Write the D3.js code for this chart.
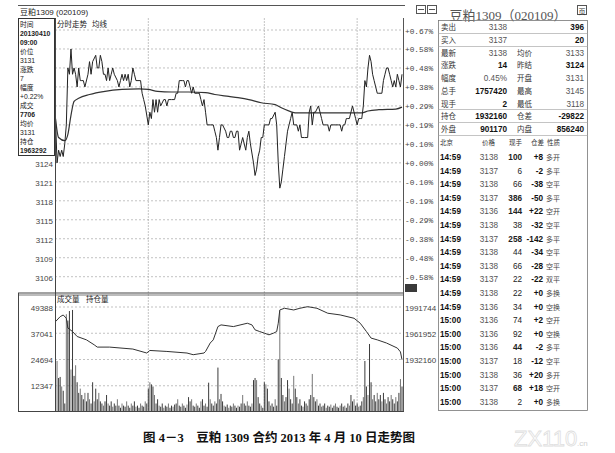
<!DOCTYPE html>
<html><head><meta charset="utf-8">
<script src="https://cdn.jsdelivr.net/npm/d3@7"></script>
<style>
body{margin:0;background:#fff;}
svg{display:block;font-family:"Liberation Sans","Noto Sans CJK SC",sans-serif;}
</style></head><body>
<svg id="c" width="615" height="453"></svg>
<script>
// ---------------- DATA ----------------
const preClose = 3124;
const priceTicks = [3145,3142,3139,3136,3133,3130,3127,3124,3121,3118,3115,3112,3109,3106];
const pctLabels = ["+0.67%","+0.58%","+0.48%","+0.38%","+0.29%","+0.19%","+0.10%","+0.00%","-0.10%","-0.19%","-0.29%","-0.38%","-0.48%","-0.58%"];
const timeGrid = [60,135,195];

const priceMin = [0,1,2,3,4,5,6,7,8,9,10,11,12,13,14,15,16,17,18,19,21,22,23,24,26,27,28,29,30,31,32,33,34,35,36,37,38,40,41,42,43,44,45,46,47,48,49,50,51,52,54,55,56,57,58,60,61,62,63,64,65,66,67,68,70,71,72,73,75,77,78,79,80,82,83,84,85,86,87,88,89,90,92,93,94,95,96,97,98,100,102,103,104,105,106,107,108,110,111,112,113,114,115,116,117,118,119,120,121,122,123,124,125,126,128,129,130,131,132,133,134,135,137,138,139,140,142,143,144,145,146,147,148,149,150,151,152,153,154,156,157,158,159,160,161,163,164,165,166,167,168,170,171,172,173,174,175,176,177,178,180,181,183,184,185,186,187,188,189,190,191,192,193,194,195,196,197,198,199,200,201,202,203,204,205,206,207,208,209,211,212,213,214,215,216,217,218,219,220,221,222,223,224];
const priceVal = [3131,3124,3126,3125,3126,3125,3127,3130,3139,3138,3142,3138,3139,3138,3136,3139,3137,3137,3137,3136,3138,3140,3138,3140,3141,3139,3139,3141,3140,3138,3138,3137,3139,3137,3138,3139,3138,3137,3136,3137,3138,3137,3138,3137,3138,3136,3137,3139,3138,3137,3137,3137,3135,3134,3133,3130,3132,3131,3134,3132,3134,3132,3134,3133,3134,3134,3133,3134,3134,3134,3135,3135,3137,3137,3137,3136,3137,3137,3136,3135,3136,3135,3135,3135,3134,3133,3134,3132,3130,3130,3130,3129,3128,3126,3128,3130,3130,3129,3128,3128,3129,3129,3128,3128,3129,3129,3126,3127,3128,3127,3126,3128,3129,3127,3124,3122,3123,3125,3126,3128,3128,3130,3130,3130,3131,3131,3132,3130,3124,3120,3121,3123,3125,3127,3129,3130,3131,3132,3130,3130,3129,3130,3128,3128,3128,3128,3132,3133,3130,3132,3132,3133,3132,3131,3130,3130,3130,3130,3129,3130,3130,3130,3130,3130,3129,3130,3130,3131,3131,3131,3132,3133,3132,3131,3130,3131,3131,3131,3133,3137,3136,3139,3141,3140,3138,3137,3136,3135,3135,3135,3137,3138,3139,3139,3138,3137,3136,3137,3136,3138,3137,3136,3138];

const avgMin = [0,2,6,8,10,12,15,22,32,43,54,60,66,75,86,97,103,112,118,125,133,142,146,152,155,176,198,202,209,220,224];
const avgVal = [3131,3128,3127.5,3128.5,3131.5,3133.7,3134.2,3134.8,3135.3,3135.6,3135.7,3135.6,3135.3,3135.2,3135.2,3135.1,3134.8,3134.5,3134.3,3134.0,3133.5,3133.2,3132.7,3132.1,3131.9,3131.9,3131.9,3132.2,3132.4,3132.5,3132.8];

const volTicks = [49388,37041,24694,12347];
const volume = [
40000,24000,16000,16500,12000,10000,4000,46000,43000,47500,20000,48000,17000,22000,14000,
9000,11000,8000,6000,9000,5000,9000,6000,4000,14000,5000,11000,6000,9000,5000,
4000,3000,5000,8000,4000,3000,5000,2500,4000,3000,6000,3000,2000,4000,3000,
2500,5000,3000,2000,4000,3000,5000,2500,3000,2000,4000,3000,2500,5000,4000,
11000,14000,13000,12000,8000,4000,6000,3000,2500,4000,2000,3000,2500,4000,2000,
3000,2500,3500,4000,6000,3000,2500,4000,3000,2000,3500,7000,5000,6000,3000,
2500,4000,3000,2000,5000,6000,3000,4000,2500,13800,6000,4000,3000,5000,4000,
20900,6000,8500,5000,3000,2500,3500,2000,3000,2500,4000,3000,2000,3000,2500,
4000,8000,4000,3000,5000,3000,2500,4000,15000,16000,15000,7000,4000,3000,2000,
14000,13000,11000,5000,3000,4000,2500,6000,3000,24800,47600,16000,8000,5000,7000,
15000,11000,6000,4000,17000,11000,7000,4000,6000,3000,2500,5000,4000,3000,6000,
8000,17900,7000,5000,6000,3000,4000,2500,3000,4000,2000,3000,2500,3500,2000,
3000,4000,2500,2000,3000,4000,2500,3000,2000,4000,3000,8000,5000,6000,3000,
4000,2500,3000,5000,7000,24000,12000,8000,32000,14000,6000,8000,5000,9000,6000,
8000,5000,9000,6000,4000,7000,5000,8000,6000,4000,7000,5000,9000,15500,12000];

const oiTicks = [1991744,1961952,1932160];
const oiMin = [0,3,5,7,8,11,14,20,25,27,35,50,59,61,72,85,89,96,97,100,102,105,107,115,124,127,129,132,135,138,141,143,144,145,148,154,158,163,169,176,184,193,197,201,204,208,214,221,223,224];
const oiVal = [1975200,1980800,1982700,1979000,1968000,1964000,1958400,1954600,1949000,1946400,1946400,1944200,1939700,1942600,1941500,1939700,1937800,1939700,1941500,1951000,1954600,1969600,1971500,1969600,1973400,1971500,1965900,1964000,1962200,1960300,1962200,1964000,1973400,1988400,1990300,1988400,1990300,1992100,1990300,1984700,1982800,1979000,1973400,1964000,1956600,1954600,1951000,1945300,1941000,1932160];

const infoLines = ["时间","20130410","09:00","价位","3131","涨跌","7","幅度","+0.22%","成交","7706","均价","3131","持仓","1963292"];
const infoBold = [false,true,true,false,false,false,false,false,false,false,true,false,false,false,true];

const quoteLeftLabels = ["卖出","买入","最新","涨跌","幅度","总手","现手","持仓","外盘"];
const quoteLeftValues = ["3138","3137","3138","14","0.45%","1757420","2","1932160","901170"];
const quoteRightLabels = ["","","均价","昨结","开盘","最高","最低","仓差","内盘"];
const quoteRightValues = ["396","20","3133","3124","3131","3145","3118","-29822","856240"];

const tradeHeader = ["北京","价格","现手","仓差","性质"];
const tradeTime = ["14:59","14:59","14:59","14:59","14:59","14:59","14:59","14:59","14:59","14:59","14:59","14:59","15:00","15:00","15:00","15:00","15:00","15:00","15:00"];
const tradePrice = [3138,3137,3138,3137,3136,3138,3137,3138,3138,3137,3138,3136,3136,3136,3136,3137,3138,3137,3138];
const tradeVol = [100,6,66,386,144,38,258,44,66,22,22,34,74,92,44,18,36,68,2];
const tradeDiff = ["+8","-2","-38","-50","+22","-32","-142","-34","-28","-22","+0","+0","+2","+0","-2","-12","+20","+18","+0"];
const tradeType = ["多开","多平","空平","多平","空开","空平","多平","空平","空平","双平","多换","空换","空开","空换","多平","空平","多开","空开","多换"];

const titleText = "豆粕1309 (020109)";
const headerText = "豆粕1309（020109）";
const captionText = "图 4－3　豆粕 1309 合约 2013 年 4 月 10 日走势图";

// ---------------- DRAW ----------------
const svg = d3.select("#c");
const X0 = 55, X1 = 403;
const INFO_BOTTOM = 155.5;
const x = d3.scaleLinear().domain([0, 224]).range([X0 + 0.5, 402]);
const yP = d3.scaleLinear().domain([3106, 3145]).range([276.7, 30]);
const yV = d3.scaleLinear().domain([0, 49388]).range([412, 307]);
const yOI = d3.scaleLinear().domain([1932160, 1991744]).range([359.7, 307]);

function ln(x1,y1,x2,y2,stroke,w,dash){
  const l = svg.append("line").attr("x1",x1).attr("y1",y1).attr("x2",x2).attr("y2",y2)
    .attr("stroke",stroke).attr("stroke-width",w||1);
  if (dash) l.attr("stroke-dasharray",dash);
  return l;
}
function tx(s,xx,yy,size,opt){
  opt = opt||{};
  const t = svg.append("text").attr("x",xx).attr("y",yy).attr("font-size",size)
    .attr("fill",opt.fill||"#333").text(s);
  if (opt.anchor) t.attr("text-anchor",opt.anchor);
  if (opt.bold) t.attr("font-weight","bold");
  if (opt.family) t.attr("font-family",opt.family);
  return t;
}

// grids
priceTicks.forEach(p => ln(X0, yP(p), X1, yP(p), "#a8a8a8", 0.7, "2,2"));
volTicks.forEach(v => ln(X0, yV(v), X1, yV(v), "#a8a8a8", 0.7, "2,2"));
timeGrid.forEach(m => ln(x(m), 18, x(m), 411, "#b5b5b5", 0.8, "2,1"));

// left price labels (the upper ones sit under the info box and are not shown)
priceTicks.filter(p => yP(p) > INFO_BOTTOM).forEach(p => tx(String(p), 53, yP(p)+4.5, 8, {anchor:"end", fill:"#444"}));
// right percent labels
priceTicks.forEach((p,i) => tx(pctLabels[i], 405, yP(p)+3.5, 7.8, {fill:"#444", family:"'Liberation Mono',monospace"}));
svg.append("rect").attr("x",405).attr("y",284).attr("width",12).attr("height",8).attr("fill","#3a3a3a");

// volume labels
volTicks.forEach(v => tx(String(v), 53, yV(v)+3.5, 8, {anchor:"end", fill:"#444"}));
oiTicks.forEach(v => tx(String(v), 405, yOI(v)+3.5, 8, {fill:"#444"}));

// volume bars
svg.append("g").selectAll("rect").data(volume).join("rect")
  .attr("x", (d,i) => x(i) - 0.5)
  .attr("y", d => yV(d))
  .attr("width", 1)
  .attr("height", d => yV(0) - yV(d))
  .attr("fill", (d,i) => i % 3 === 1 ? "#777" : "#3c3c3c");

// OI line
svg.append("path").datum(d3.zip(oiMin, oiVal))
  .attr("d", d3.line().x(d => x(d[0])).y(d => yOI(d[1])))
  .attr("fill","none").attr("stroke","#333").attr("stroke-width",1);

// avg line
svg.append("path").datum(d3.zip(avgMin, avgVal))
  .attr("d", d3.line().curve(d3.curveMonotoneX).x(d => x(d[0])).y(d => yP(d[1])))
  .attr("fill","none").attr("stroke","#333").attr("stroke-width",1.2);
// price line
svg.append("path").datum(d3.zip(priceMin, priceVal))
  .attr("d", d3.line().x(d => x(d[0])).y(d => yP(d[1])))
  .attr("fill","none").attr("stroke","#222").attr("stroke-width",1);

// frame lines
ln(18, 5.5, 405, 5.5, "#555", 1);
ln(X0+0.5, 18, X0+0.5, 412, "#444", 1);
ln(X1+0.5, 18, X1+0.5, 412, "#555", 1);
ln(18, 293, X1, 293, "#444", 1);
ln(18, 295, X1, 295, "#555", 0.8);
ln(18.5, 293, 18.5, 412, "#444", 1);
ln(18, 411.5, X1+1, 411.5, "#444", 1);

// titles
tx(titleText, 20, 15, 8, {fill:"#222"});
tx("分时走势", 57, 27, 7.5, {fill:"#222"});
tx("均线", 92, 27, 7.5, {fill:"#222"});
tx("成交量", 57, 302, 7.5, {fill:"#222"});
tx("持仓量", 86, 302, 7.5, {fill:"#222"});

// info box
svg.append("rect").attr("x",18.5).attr("y",18.5).attr("width",36).attr("height",INFO_BOTTOM-18.5)
  .attr("fill","#fff").attr("stroke","#333").attr("stroke-width",1);
infoLines.forEach((s,i) => tx(s, 20, 27 + i*9, 6.8, {fill:"#222", bold: infoBold[i]}));

// right header
tx(headerText, 508, 20, 13, {anchor:"middle", fill:"#555", family:"'Liberation Serif','Noto Sans CJK SC',serif"});
// icons
svg.append("rect").attr("x",416.5).attr("y",5.5).attr("width",9).attr("height",8).attr("fill","none").attr("stroke","#555");
svg.append("rect").attr("x",427.5).attr("y",5.5).attr("width",9).attr("height",8).attr("fill","none").attr("stroke","#555");
ln(418,9.5,424,9.5,"#555",1); ln(429,9.5,435,9.5,"#555",1);
svg.append("rect").attr("x",577.5).attr("y",5.5).attr("width",9).attr("height",9).attr("fill","#fff").attr("stroke","#555");
tx("页", 582, 13.5, 7, {anchor:"middle", fill:"#333"});

// table frame
svg.append("rect").attr("x",438.5).attr("y",20.5).attr("width",149).attr("height",390)
  .attr("fill","none").attr("stroke","#777").attr("stroke-width",0.8);
[33.5, 46.5, 109.5, 122.5, 135.5].forEach(yy => ln(438.5, yy, 587.5, yy, "#aaa", 0.7));

// quote rows
quoteLeftLabels.forEach((s,i) => {
  const yy = 30 + i*12.75;
  const boldL = [false,false,false,true,false,true,true,true,true][i];
  const boldR = [true,true,false,true,false,false,false,true,true][i];
  tx(s, 441, yy, 7.5, {fill:"#333"});
  tx(quoteLeftValues[i], 507, yy, 8.2, {anchor:"end", fill: boldL ? "#111" : "#555", bold: boldL});
  tx(quoteRightLabels[i], 517, yy, 7.5, {fill:"#333"});
  tx(quoteRightValues[i], 584, yy, 8.2, {anchor:"end", fill: boldR ? "#111" : "#555", bold: boldR});
});

// trades
const thX = [440, 482, 509, 531, 547];
tradeHeader.forEach((s,i) => tx(s, thX[i], 145, 6.5, {fill:"#333"}));
tradeTime.forEach((t,i) => {
  const yy = 160 + i*13.6;
  tx(t, 440, yy, 8.2, {fill:"#111", bold:true});
  tx(String(tradePrice[i]), 498, yy, 8.2, {anchor:"end", fill:"#555"});
  tx(String(tradeVol[i]), 522, yy, 8.2, {anchor:"end", fill:"#222", bold: tradeVol[i] >= 100 || [3,6,14,17].includes(i)});
  tx(tradeDiff[i], 543, yy, 8.2, {anchor:"end", fill:"#111", bold:true});
  tx(tradeType[i], 546, yy, 7, {fill:"#444"});
});

// caption
tx(captionText, 143, 442, 12.5, {fill:"#111", bold:true, family:"'Liberation Serif','Noto Sans CJK SC',serif"});
// watermark
tx("ZX110", 514, 446, 22, {fill:"#fff", family:"'Liberation Sans',sans-serif"}).attr("stroke","#dedede").attr("stroke-width",0.8);
tx(".cn", 577, 446, 8, {fill:"#d0d0d0"});
</script>
</body></html>
